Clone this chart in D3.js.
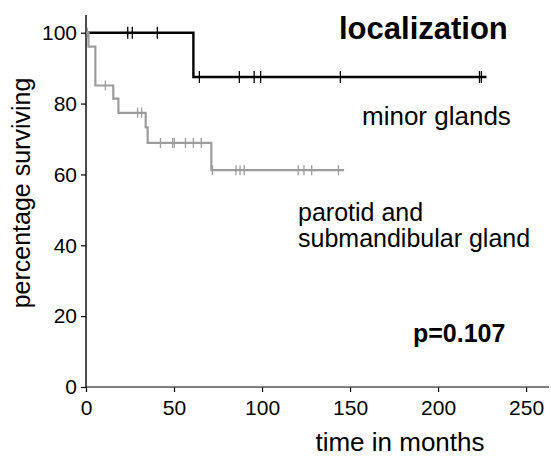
<!DOCTYPE html>
<html lang="en">
<head>
<meta charset="utf-8">
<title>localization survival</title>
<script src="https://cdn.jsdelivr.net/npm/d3@7"></script>
<style>
  body { margin: 0; background: #fff; }
  text { font-family: "Liberation Sans", Arial, sans-serif; }
</style>
</head>
<body>
<script>
// survival curves
var minorTimes = [0, 61];
var minorSurv = [100, 87.5];
var minorEnd = 227.5;
var minorCensored = [23.7, 26.3, 40.5, 64.4, 87.1, 95.5, 99.2, 144.5, 223.5, 224.6];

var paroTimes = [0, 1.4, 5.3, 15.5, 18.4, 33.9, 35, 71.2];
var paroSurv = [100, 96.1, 85.1, 81.4, 77.4, 73.3, 68.9, 61.2];
var paroEnd = 146.6;
var paroCensored = [0.8, 11, 29.3, 31.6, 42.3, 49.2, 50.2, 56.5, 61, 65.5, 71.8, 85.2, 87.5, 89.9, 120.5, 123.8, 128.2, 143.4];

var xTicks = [0, 50, 100, 150, 200, 250];
var yTicks = [0, 20, 40, 60, 80, 100];

var w = 551, h = 457;
var svg = d3.select("body").append("svg")
  .attr("width", w)
  .attr("height", h);

var x = d3.scaleLinear().domain([0, 263]).range([86, 549]);
var y = d3.scaleLinear().domain([0, 105]).range([387, 15]);

// axes
var yAxis = d3.axisLeft(y).tickValues(yTicks).tickSize(5).tickPadding(4).tickSizeOuter(0);
var gy = svg.append("g").attr("transform", "translate(" + x(0) + ",0)").call(yAxis);
gy.select(".domain").remove();
gy.selectAll(".tick line").attr("stroke", "#000").attr("stroke-width", 1.2);
gy.selectAll(".tick text").attr("font-size", "21px").attr("fill", "#000")
  .attr("font-family", "Liberation Sans, Arial, sans-serif");

var xAxis = d3.axisBottom(x).tickValues(xTicks).tickSize(5).tickPadding(8).tickSizeOuter(0);
var gx = svg.append("g").attr("transform", "translate(0," + y(0) + ")").call(xAxis);
gx.select(".domain").remove();
gx.selectAll(".tick line").attr("stroke", "#000").attr("stroke-width", 1.2);
gx.selectAll(".tick text").attr("font-size", "21px").attr("fill", "#000")
  .attr("font-family", "Liberation Sans, Arial, sans-serif");

svg.append("line")
  .attr("x1", x(0)).attr("x2", x.range()[1])
  .attr("y1", y(0)).attr("y2", y(0))
  .attr("stroke", "#555").attr("stroke-width", 1.4);
svg.append("line")
  .attr("x1", x(0)).attr("x2", x(0))
  .attr("y1", y(0)).attr("y2", y.range()[1])
  .attr("stroke", "#000").attr("stroke-width", 1.4);

// step curves
function survAt(times, surv, t) {
  var s = surv[0];
  for (var i = 0; i < times.length; i++) {
    if (times[i] <= t) s = surv[i];
  }
  return s;
}

function drawCurve(times, surv, end, cens, color, width, half) {
  var pts = times.map(function(t, i) { return [t, surv[i]]; });
  pts.push([end, surv[surv.length - 1]]);
  var line = d3.line()
    .x(function(d) { return x(d[0]); })
    .y(function(d) { return y(d[1]); })
    .curve(d3.curveStepAfter);
  svg.append("path")
    .datum(pts)
    .attr("d", line)
    .attr("fill", "none")
    .attr("stroke", color)
    .attr("stroke-width", width);
  svg.selectAll(null)
    .data(cens)
    .enter()
    .append("line")
    .attr("x1", function(d) { return x(d); })
    .attr("x2", function(d) { return x(d); })
    .attr("y1", function(d) { return y(survAt(times, surv, d)) - half; })
    .attr("y2", function(d) { return y(survAt(times, surv, d)) + half; })
    .attr("stroke", color)
    .attr("stroke-width", 1.3);
}

drawCurve(minorTimes, minorSurv, minorEnd, minorCensored, "#000", 2.4, 6);
drawCurve(paroTimes, paroSurv, paroEnd, paroCensored, "#9c9c9c", 2.2, 5);

// labels
svg.append("text")
  .attr("x", 400).attr("y", 451)
  .attr("text-anchor", "middle")
  .attr("font-size", "26px")
  .text("time in months");

svg.append("text")
  .attr("transform", "translate(30,193) rotate(-90)")
  .attr("text-anchor", "middle")
  .attr("font-size", "25px")
  .text("percentage surviving");

svg.append("text")
  .attr("x", 339).attr("y", 39)
  .attr("font-size", "31px")
  .attr("font-weight", "bold")
  .text("localization");

svg.append("text")
  .attr("x", 362).attr("y", 125)
  .attr("font-size", "26px")
  .text("minor glands");

svg.append("text")
  .attr("x", 298).attr("y", 221)
  .attr("font-size", "25px")
  .text("parotid and");
svg.append("text")
  .attr("x", 298).attr("y", 247)
  .attr("font-size", "25px")
  .text("submandibular gland");

svg.append("text")
  .attr("x", 413).attr("y", 342)
  .attr("font-size", "25px")
  .attr("font-weight", "bold")
  .text("p=0.107");
</script>
</body>
</html>
